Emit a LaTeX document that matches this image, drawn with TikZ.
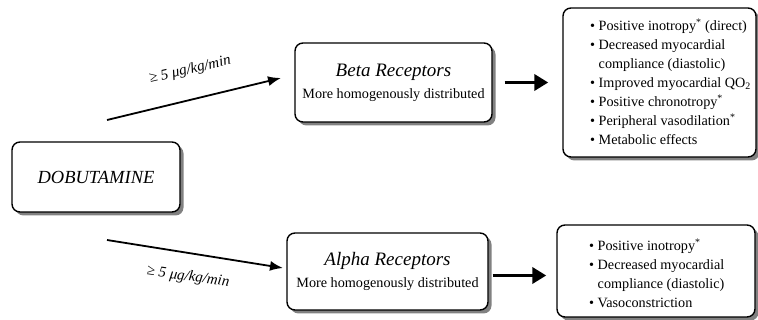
\documentclass[tikz,border=0pt]{standalone}
\usepackage{fontspec}
\setmainfont{Liberation Serif}
\usetikzlibrary{shadows,arrows.meta}

\begin{document}
\begin{tikzpicture}[x=1pt,y=-1pt,
  box/.style={draw=black, line width=1.4pt, rounded corners=8pt, fill=white,
    drop shadow={shadow xshift=3.5pt, shadow yshift=-3.5pt, fill=black!70, opacity=.7}},
  dose/.style={font=\fontsize{15}{17}\selectfont\itshape, inner sep=0pt},
  thinarrow/.style={line width=1.8pt, -{Latex[length=13pt,width=10pt]}},
  bigarrow/.style={line width=3.6pt, -{Triangle[length=14pt,width=16pt]}},
  effects/.style={font=\fontsize{14.2}{19}\selectfont, align=left, anchor=west, inner sep=0pt}]
\useasboundingbox (0,0) rectangle (758,320);

% drug and receptor boxes
\node[box, minimum width=168pt, minimum height=70pt, font=\fontsize{18.5}{20}\selectfont\itshape]
  (dob) at (96,177) {DOBUTAMINE};
\node[box, minimum width=197pt, minimum height=79pt, align=center]
  (beta) at (393.5,82.5) {{\fontsize{19}{22}\selectfont\itshape Beta Receptors}\\[7pt]
  {\fontsize{14.2}{17}\selectfont More homogenously distributed}};
\node[box, minimum width=201pt, minimum height=77pt, align=center]
  (alpha) at (387.5,271.5) {{\fontsize{19}{22}\selectfont\itshape Alpha Receptors}\\[7pt]
  {\fontsize{14.2}{17}\selectfont More homogenously distributed}};

% effect boxes
\node[box, minimum width=193pt, minimum height=149pt] (betaeff) at (659.5,82.5) {};
\node[box, minimum width=198pt, minimum height=92pt] (alphaeff) at (656,271) {};

\node[effects] (betalist) at (590,82) {%
  \textbullet\ Positive inotropy\textsuperscript{*} (direct)\\
  \textbullet\ Decreased myocardial\\
  \phantom{\textbullet\ }compliance (diastolic)\\
  \textbullet\ Improved myocardial QO\textsubscript{2}\\
  \textbullet\ Positive chronotropy\textsuperscript{*}\\
  \textbullet\ Peripheral vasodilation\textsuperscript{*}\\
  \textbullet\ Metabolic effects};
\node[effects] (alphalist) at (589,273) {%
  \textbullet\ Positive inotropy\textsuperscript{*}\\
  \textbullet\ Decreased myocardial\\
  \phantom{\textbullet\ }compliance (diastolic)\\
  \textbullet\ Vasoconstriction};

% dose arrows
\coordinate (upStart) at (107,120);
\coordinate (upEnd) at (281,78);
\coordinate (loStart) at (107,240);
\coordinate (loEnd) at (283,268);
\draw[thinarrow] (upStart) -- (upEnd);
\draw[thinarrow] (loStart) -- (loEnd);
\node[dose, rotate=13] (upDose) at (190,70) {≥ 5 μg/kg/min};
\node[dose, rotate=-8] (loDose) at (188,277) {≥ 5 μg/kg/min};

% receptor to effect arrows
\draw[bigarrow] ([xshift=12pt]beta.east) -- ([xshift=-14pt]beta.east -| betaeff.west);
\draw[bigarrow] ([xshift=4pt,yshift=-4pt]alpha.east) -- ([xshift=-10pt,yshift=-4pt]alpha.east -| alphaeff.west);
\end{tikzpicture}
\end{document}
